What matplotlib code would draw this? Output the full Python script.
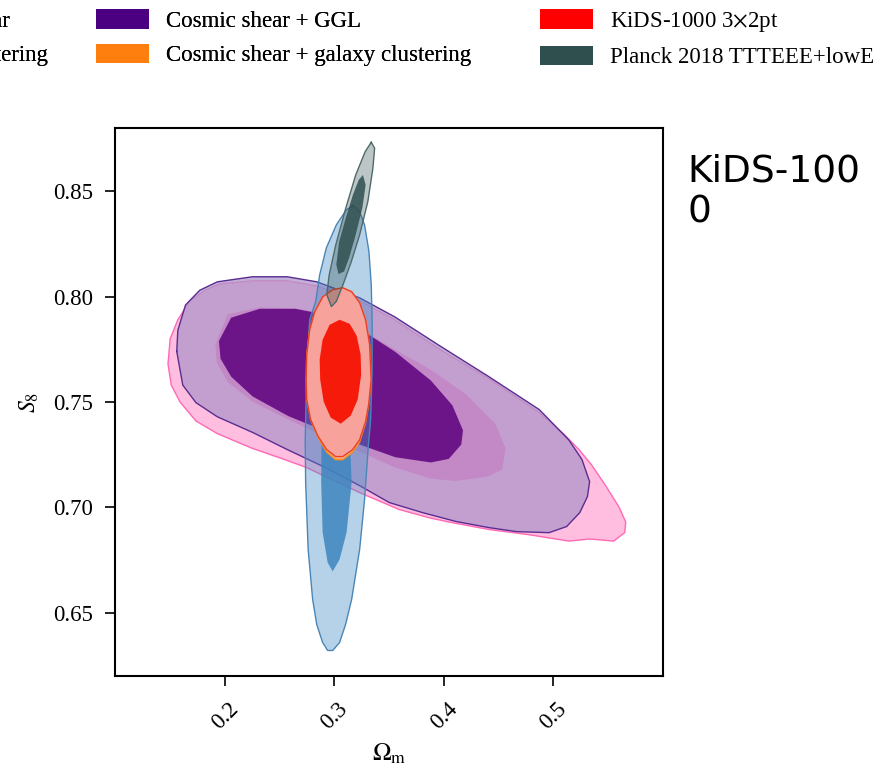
import matplotlib
matplotlib.use('Agg')
import matplotlib.pyplot as plt
from matplotlib.patches import Patch

plt.rcParams['font.family'] = ['Liberation Serif', 'DejaVu Serif']
plt.rcParams['mathtext.fontset'] = 'stix'

# Contour outlines read as (Omega_m, S8) vertices
# cosmic shear alone
CS_2S_OM = [0.148, 0.150, 0.157, 0.168, 0.182, 0.195, 0.225, 0.257, 0.284, 0.323, 0.355, 0.396,
            0.441, 0.487, 0.510, 0.524, 0.535, 0.548, 0.560, 0.566, 0.565, 0.555, 0.533, 0.514,
            0.478, 0.441, 0.405, 0.387, 0.359, 0.323, 0.274, 0.250, 0.225, 0.193, 0.1735, 0.159, 0.151]
CS_2S_S8 = [0.768, 0.780, 0.789, 0.798, 0.803, 0.806, 0.8075, 0.8075, 0.805, 0.798, 0.789, 0.775,
            0.761, 0.745, 0.7345, 0.727, 0.720, 0.710, 0.700, 0.693, 0.688, 0.684, 0.685, 0.684,
            0.687, 0.6895, 0.693, 0.695, 0.699, 0.707, 0.719, 0.7235, 0.728, 0.735, 0.741, 0.750, 0.758]
CS_1S_OM = [0.1912, 0.2026, 0.2318, 0.2644, 0.290, 0.323, 0.3555, 0.388, 0.4205, 0.4467, 0.4564,
            0.4532, 0.4402, 0.4109, 0.388, 0.3555, 0.323, 0.290, 0.2579, 0.2253, 0.2026, 0.1926]
CS_1S_S8 = [0.7772, 0.7916, 0.7949, 0.7944, 0.7923, 0.7852, 0.7748, 0.7653, 0.7535, 0.7399, 0.7281,
            0.7179, 0.7146, 0.7125, 0.7136, 0.7189, 0.7264, 0.734, 0.7416, 0.7501, 0.7594, 0.7686]

# cosmic shear + GGL
GGL_2S_OM = [0.156, 0.157, 0.164, 0.177, 0.193, 0.225, 0.257, 0.284, 0.323, 0.355, 0.396, 0.441,
             0.487, 0.514, 0.526, 0.533, 0.531, 0.524, 0.512, 0.496, 0.466, 0.441, 0.411, 0.3805,
             0.350, 0.323, 0.290, 0.257, 0.2255, 0.193, 0.1735, 0.1615]
GGL_2S_S8 = [0.774, 0.784, 0.796, 0.803, 0.807, 0.8094, 0.8094, 0.807, 0.7994, 0.7904, 0.7767, 0.762,
             0.7464, 0.732, 0.7227, 0.7122, 0.7051, 0.6975, 0.6909, 0.688, 0.6885, 0.6904, 0.6933, 0.6975,
             0.7023, 0.7103, 0.7193, 0.7274, 0.7355, 0.743, 0.7497, 0.758]
GGL_1S_OM = [0.1945, 0.2057, 0.2318, 0.2644, 0.290, 0.323, 0.3555, 0.388, 0.4077, 0.4174, 0.4158,
             0.4044, 0.388, 0.3555, 0.323, 0.290, 0.2579, 0.2253, 0.2057, 0.196]
GGL_1S_S8 = [0.7789, 0.790, 0.7942, 0.7942, 0.7916, 0.7847, 0.7738, 0.7602, 0.7484, 0.7365, 0.7298,
             0.723, 0.7213, 0.7238, 0.7298, 0.7365, 0.7433, 0.7526, 0.762, 0.7705]

# galaxy clustering alone
GC_2S_OM = [0.3169, 0.323, 0.3275, 0.3315, 0.3336, 0.3344, 0.3344, 0.333, 0.3307, 0.3275, 0.323,
            0.3157, 0.3102, 0.3047, 0.2984, 0.2938, 0.2892, 0.2838, 0.2801, 0.276, 0.2737, 0.2733,
            0.2747, 0.2774, 0.2829, 0.2865, 0.2926, 0.3017, 0.3108]
GC_2S_S8 = [0.8432, 0.8403, 0.834, 0.8214, 0.8056, 0.789, 0.7653, 0.7416, 0.7274, 0.7037, 0.680,
            0.6563, 0.6445, 0.6359, 0.6321, 0.6321, 0.6359, 0.6445, 0.6563, 0.680, 0.7118, 0.7317,
            0.7653, 0.789, 0.7977, 0.8103, 0.8231, 0.834, 0.8411]
GC_1S_OM = [0.302, 0.3093, 0.3139, 0.3157, 0.3111, 0.3047, 0.2984, 0.2938, 0.2892, 0.2879, 0.2883, 0.2929]
GC_1S_S8 = [0.7558, 0.7511, 0.7369, 0.7118, 0.6881, 0.6753, 0.6696, 0.6738, 0.6881, 0.7118, 0.7369, 0.7511]

# cosmic shear + galaxy clustering
CSGC_2S_OM = [0.3075, 0.3157, 0.323, 0.3284, 0.3321, 0.3335, 0.3312, 0.3284, 0.323, 0.3166, 0.3075,
              0.3011, 0.2929, 0.2847, 0.2783, 0.2747, 0.2742, 0.2747, 0.2774, 0.282, 0.2893, 0.2984]
CSGC_2S_S8 = [0.8042, 0.8023, 0.7971, 0.789, 0.7772, 0.7606, 0.7487, 0.7400, 0.7310, 0.7262, 0.7226,
              0.7226, 0.7262, 0.7335, 0.7416, 0.7511, 0.7606, 0.7724, 0.7843, 0.7928, 0.7999, 0.8032]

# KiDS-1000 3x2pt
K3_2S_OM = [0.3075, 0.3157, 0.323, 0.3284, 0.3321, 0.3335, 0.3312, 0.3284, 0.323, 0.3166, 0.3075,
            0.3011, 0.2929, 0.2847, 0.2783, 0.2747, 0.2742, 0.2747, 0.2774, 0.282, 0.2893, 0.2984]
K3_2S_S8 = [0.8042, 0.8023, 0.7971, 0.789, 0.7772, 0.7606, 0.7487, 0.7407, 0.7321, 0.7274, 0.7241,
            0.7241, 0.7274, 0.734, 0.7416, 0.7511, 0.7606, 0.7724, 0.7843, 0.7928, 0.7999, 0.8032]
K3_1S_OM = [0.3047, 0.3139, 0.3203, 0.3239, 0.3244, 0.3212, 0.3148, 0.3057, 0.2966, 0.2902, 0.287,
            0.2865, 0.2892, 0.2956]
K3_1S_S8 = [0.789, 0.7871, 0.7814, 0.7724, 0.7629, 0.7511, 0.7435, 0.7397, 0.7426, 0.7501, 0.7606,
            0.770, 0.7795, 0.7866]

# Planck 2018
PL_2S_OM = [0.3336, 0.3367, 0.3351, 0.3305, 0.323, 0.3154, 0.3078, 0.3017, 0.2972, 0.293, 0.2952,
            0.3012, 0.3103, 0.3194, 0.3281]
PL_2S_S8 = [0.8732, 0.8704, 0.8609, 0.8451, 0.8293, 0.8166, 0.8056, 0.7977, 0.7953, 0.8009, 0.8103,
            0.8245, 0.8419, 0.8577, 0.8688]
PL_1S_OM = [0.326, 0.3285, 0.3255, 0.3194, 0.3133, 0.3088, 0.3037, 0.3017, 0.3043, 0.3103, 0.3168, 0.3222]
PL_1S_S8 = [0.8577, 0.853, 0.8421, 0.8293, 0.8182, 0.8119, 0.8107, 0.8151, 0.8261, 0.8372, 0.8482, 0.8554]

LABELS = ['Cosmic shear', 'Galaxy clustering', 'Cosmic shear + GGL',
          'Cosmic shear + galaxy clustering', r'KiDS-1000 3$\times$2pt', 'Planck 2018 TTTEEE+lowE']
COLORS = ['#FF69B4', '#1F77B4', '#4B0082', '#FF7F0E', '#FF0000', '#2F4F4F']

XTICKS = [0.2, 0.3, 0.4, 0.5]
YTICKS = [0.65, 0.70, 0.75, 0.80, 0.85]

fig = plt.figure(figsize=(8.94, 7.70), dpi=100)
ax = fig.add_axes([0.1291, 0.1221, 0.6125, 0.7117])

LW = 1.0
# cosmic shear
ax.fill(CS_2S_OM, CS_2S_S8, fc='#FFBDE0', ec='#FF69B4', lw=LW, zorder=1)
ax.fill(CS_1S_OM, CS_1S_S8, fc='#FF66B8', ec='none', zorder=2)
# cosmic shear + GGL
ax.fill(GGL_2S_OM, GGL_2S_S8, fc='#AF96CB', alpha=0.75, ec='none', zorder=3)
ax.plot(GGL_2S_OM + GGL_2S_OM[:1], GGL_2S_S8 + GGL_2S_S8[:1], color='#5A2D91', lw=LW, zorder=3)
ax.fill(GGL_1S_OM, GGL_1S_S8, fc='#6B1589', ec='none', zorder=4)
# galaxy clustering
ax.fill(GC_2S_OM, GC_2S_S8, fc='#4A90C8', alpha=0.4, ec='none', zorder=5)
ax.plot(GC_2S_OM + GC_2S_OM[:1], GC_2S_S8 + GC_2S_S8[:1], color='#4A86B8', lw=LW, zorder=5)
ax.fill(GC_1S_OM, GC_1S_S8, fc='#3D86BF', alpha=0.85, ec='none', zorder=6)
# cosmic shear + galaxy clustering
ax.fill(CSGC_2S_OM, CSGC_2S_S8, fc='#F9B080', ec='#FF8C1A', lw=LW, zorder=7)
# KiDS-1000 3x2pt
ax.fill(K3_2S_OM, K3_2S_S8, fc='#F7A29A', ec='#E8402A', lw=LW, zorder=8)
ax.fill(K3_1S_OM, K3_1S_S8, fc='#F51A0A', ec='none', zorder=9)
# Planck
ax.fill(PL_2S_OM, PL_2S_S8, fc='#2F4F4F', alpha=0.32, ec='none', zorder=10)
ax.plot(PL_2S_OM + PL_2S_OM[:1], PL_2S_S8 + PL_2S_S8[:1], color='#4F6A6A', lw=LW, zorder=10)
ax.fill(PL_1S_OM, PL_1S_S8, fc='#2F4F4F', alpha=0.85, ec='none', zorder=11)

ax.set_xlim(0.1, 0.6)
ax.set_ylim(0.62, 0.88)
ax.set_xticks(XTICKS)
ax.set_xticklabels(['%.1f' % v for v in XTICKS], rotation=45)
ax.set_yticks(YTICKS)
ax.set_yticklabels(['%.2f' % v for v in YTICKS])
ax.tick_params(direction='out', length=7, width=1.2, labelsize=16.5, pad=9)
for sp in ax.spines.values():
    sp.set_linewidth(1.5)
ax.set_xlabel(r'$\Omega_{\rm m}$', fontsize=18, labelpad=6)
ax.set_ylabel(r'$S_8$', fontsize=17, labelpad=9)

# legend split in two blocks so the right column lines up on its own
handles = [Patch(facecolor=c, edgecolor='none') for c in COLORS]
leg_kw = dict(frameon=False, fontsize=16.5, handlelength=2.3, handleheight=0.95,
              handletextpad=0.75, labelspacing=0.5, borderpad=0, borderaxespad=0)
leg_a = fig.legend(handles[:4], LABELS[:4], ncol=2, loc='upper left',
                   bbox_to_anchor=(-0.2058, 0.9877), columnspacing=2.1, **leg_kw)
fig.add_artist(leg_a)
fig.legend(handles[4:], LABELS[4:], ncol=1, loc='upper left',
           bbox_to_anchor=(0.604, 0.9877), **leg_kw)

fig.text(0.769, 0.801, 'KiDS-100\n0', family='DejaVu Sans', fontsize=27, va='top', ha='left')

fig.savefig('out.png', dpi=100)
